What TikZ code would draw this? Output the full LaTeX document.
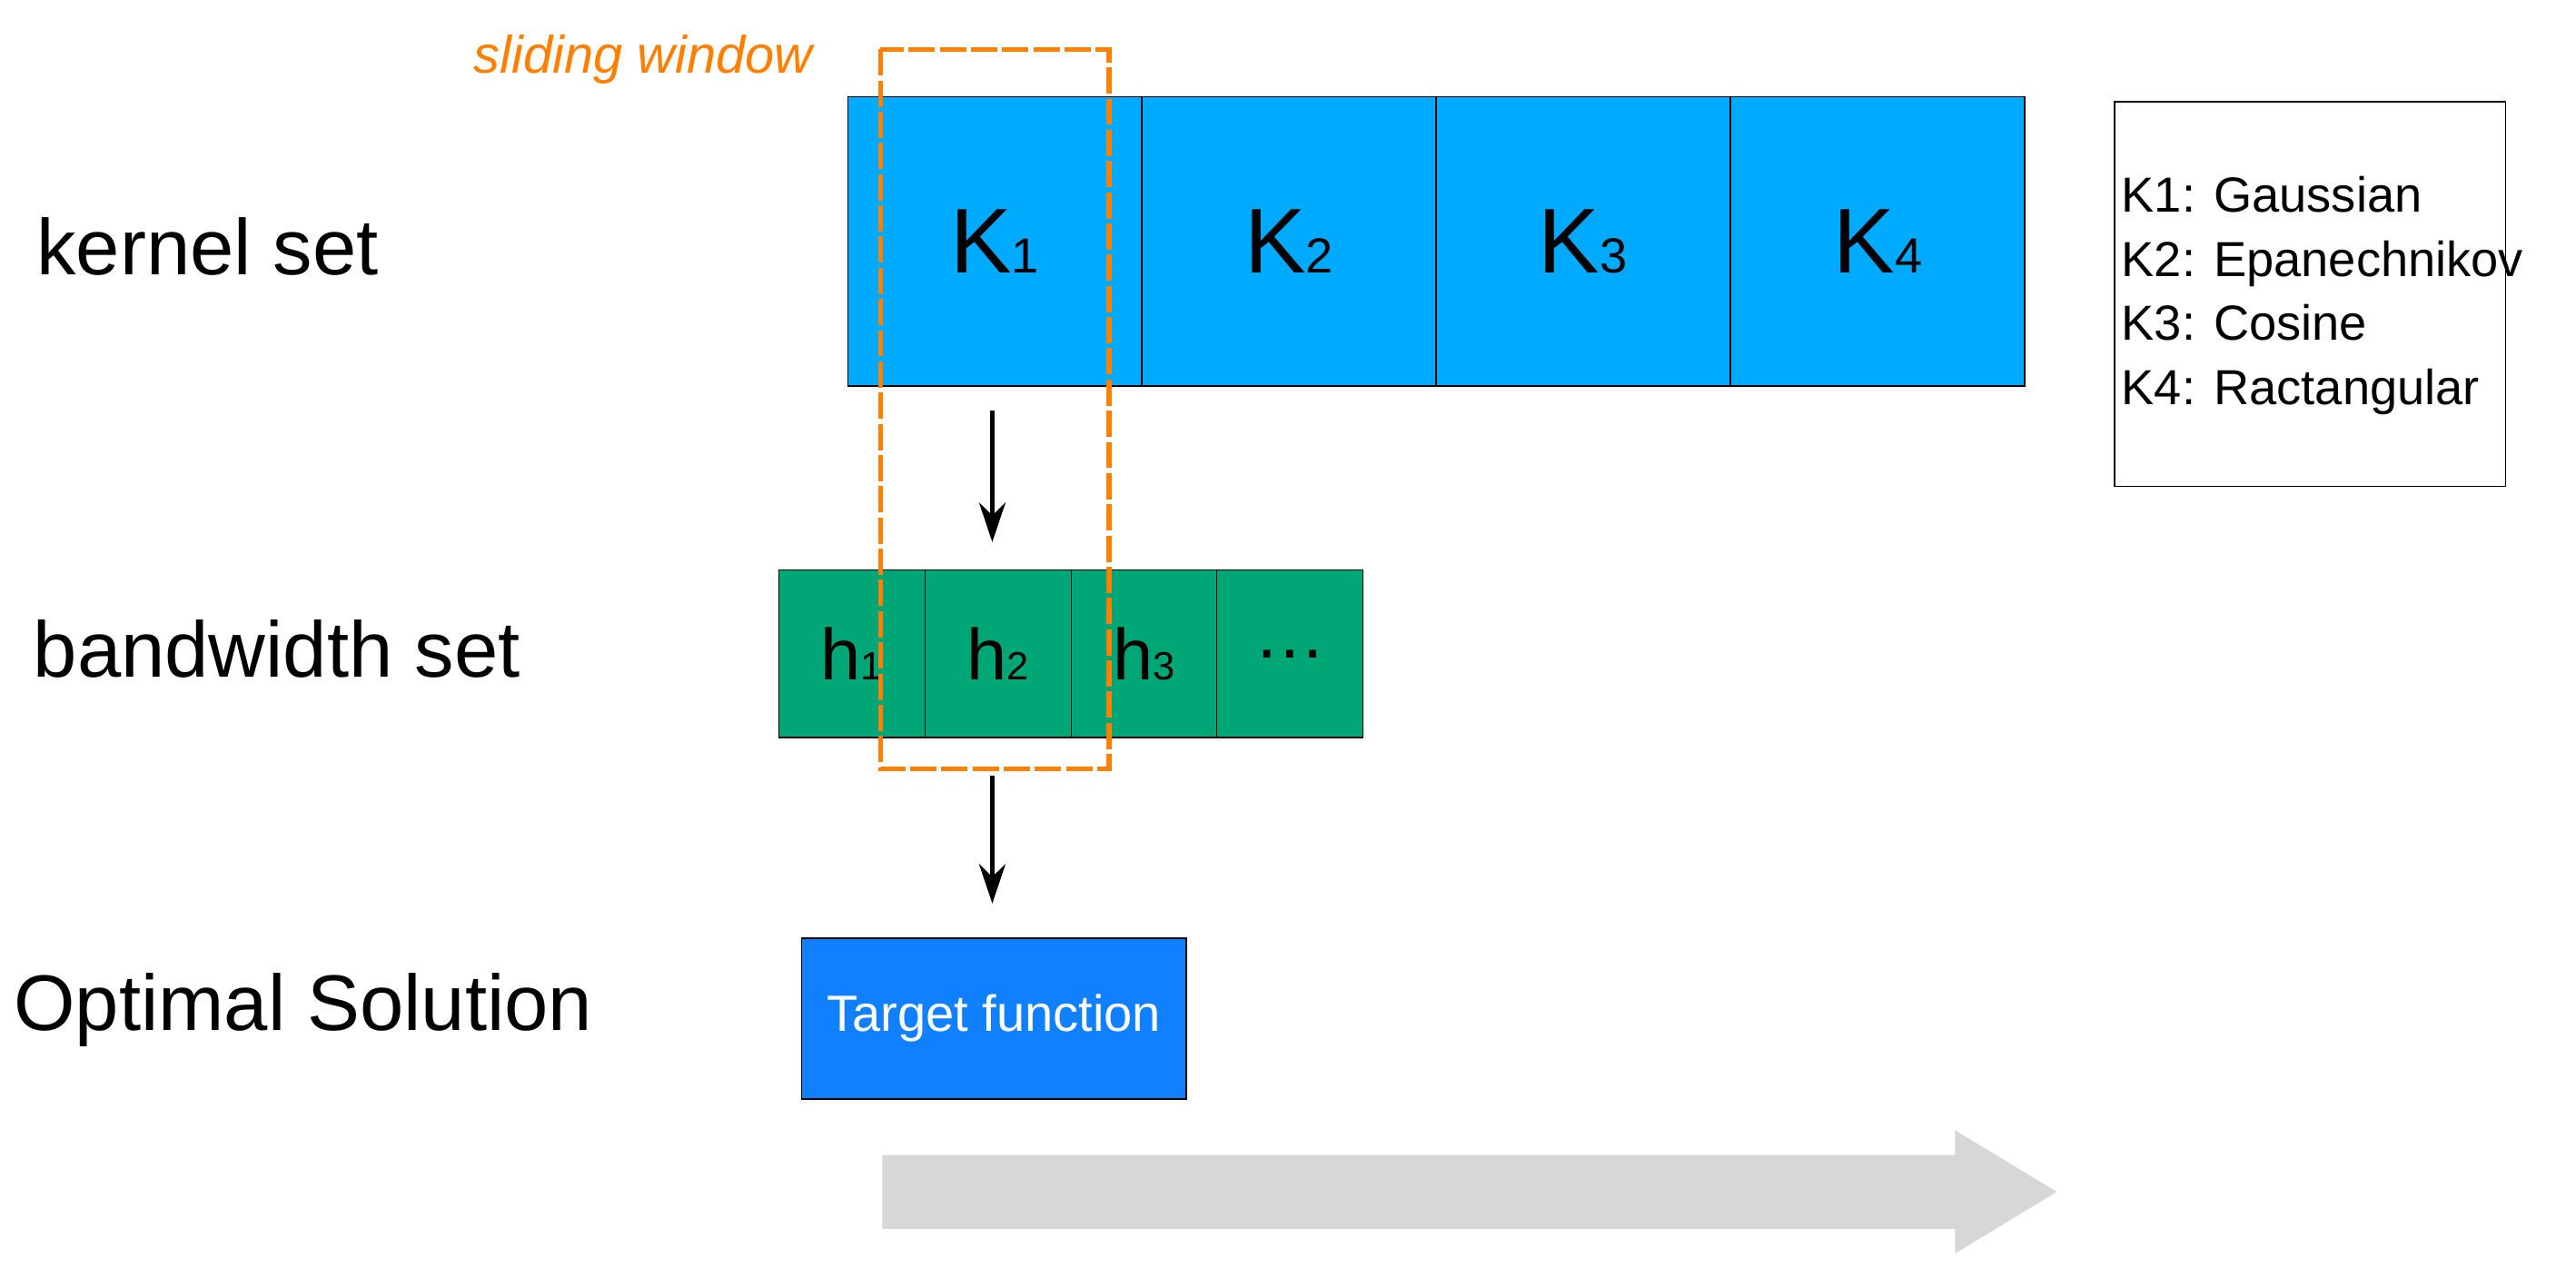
\documentclass[tikz,border=0pt]{standalone}
\usepackage{fontspec}
\setmainfont{Liberation Sans}
\usetikzlibrary{arrows.meta}
\definecolor{kblue}{RGB}{0,170,255}
\definecolor{hgreen}{RGB}{0,166,118}
\definecolor{tblue}{RGB}{16,128,255}
\definecolor{wor}{RGB}{255,128,0}
\definecolor{lgray}{RGB}{215,215,215}
\begin{document}
\begin{tikzpicture}[x=0.5pt,y=-0.5pt,
  kbox/.style={draw=black,line width=0.4pt,fill=kblue,minimum width=89.5pt,minimum height=88pt,inner sep=0pt},
  hbox/.style={draw=black,line width=0.4pt,fill=hgreen,minimum width=44.5pt,minimum height=51pt,inner sep=0pt},
  lab/.style={anchor=west,font=\fontsize{24}{28}\selectfont,inner sep=0pt},
  arr/.style={line width=1.5pt,-{Stealth[length=12pt,width=8pt]}}]
\useasboundingbox (0,0) rectangle (1568,783);
% kernel set
\node[lab] at (22,150) {kernel set};
\node[lab] at (20,395) {bandwidth set};
\node[lab] at (8,615) {Optimal Solution};
\newcommand{\KK}[1]{{\fontsize{28}{30}\selectfont K}{\fontsize{15}{18}\selectfont #1}}
\newcommand{\HH}[1]{{\fontsize{22}{26}\selectfont h}{\fontsize{12}{14}\selectfont #1}}
\node[kbox] (k1) at (605.5,147) {\KK{1}};
\node[kbox] (k2) at (784.5,147) {\KK{2}};
\node[kbox] (k3) at (963.5,147) {\KK{3}};
\node[kbox] (k4) at (1143,147) {\KK{4}};
% legend
\node[draw=black,line width=0.4pt,minimum width=119pt,minimum height=117pt,inner sep=0pt] (leg) at (1406,179) {};
\node[anchor=west,align=left,font=\fontsize{15}{19.5}\selectfont,inner sep=0pt] (legt) at (1291,180)
 {K1: Gaussian\\K2: Epanechnikov\\K3: Cosine\\K4: Ractangular};
% bandwidth set
\node[hbox] (h1) at (518.5,398) {\HH{1}};
\node[hbox] (h2) at (607.5,398) {\HH{2}};
\node[hbox] (h3) at (696.5,398) {\HH{3}};
\node[hbox] (h4) at (785,398) {\fontsize{22}{26}\selectfont\dots};
% target
\node[draw=black,line width=0.4pt,fill=tblue,minimum width=117pt,minimum height=49pt,inner sep=0pt,text=white,font=\fontsize{15.5}{18}\selectfont] (t) at (605,620) {Target function};
% arrows
\coordinate (a1s) at (604,250); \coordinate (a1e) at (604,330);
\coordinate (a2s) at (604,472); \coordinate (a2e) at (604,550);
\draw[arr] (a1s) -- (a1e);
\draw[arr] (a2s) -- (a2e);
% sliding window
\draw[wor,line width=1.5pt,dash pattern=on 8pt off 1.5pt] (536,30) rectangle (675,468);
\node[anchor=west,text=wor,font=\fontsize{16}{19}\selectfont\itshape,inner sep=0pt] (sw) at (288,36) {sliding window};
% big arrow
\fill[lgray] (537,703) -- (1190,703) -- (1190,688) -- (1252,725.5) -- (1190,763) -- (1190,748) -- (537,748) -- cycle;
\end{tikzpicture}
\end{document}
